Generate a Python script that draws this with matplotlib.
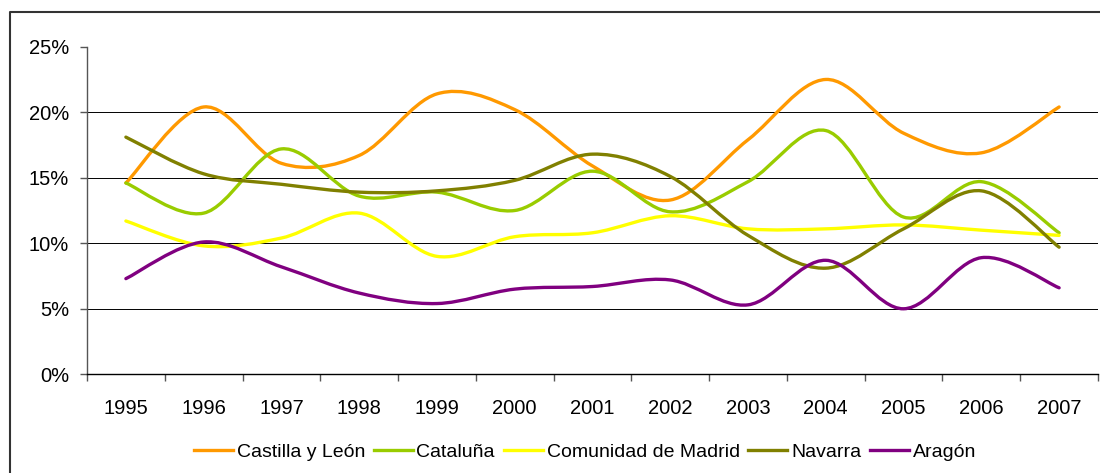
import numpy as np
import matplotlib
matplotlib.use("Agg")
import matplotlib.pyplot as plt
from matplotlib.path import Path
from matplotlib.patches import PathPatch
from matplotlib.lines import Line2D
from matplotlib.ticker import FixedLocator, FuncFormatter

plt.rcParams['font.family'] = ['Liberation Sans', 'DejaVu Sans']

# values in percent
years = ["1995", "1996", "1997", "1998", "1999", "2000", "2001",
         "2002", "2003", "2004", "2005", "2006", "2007"]
castilla_leon = [14.6, 20.4, 16.1, 16.7, 21.4, 20.2, 15.9, 13.3, 17.9, 22.5, 18.4, 16.9, 20.4]
cataluna = [14.6, 12.3, 17.2, 13.6, 13.9, 12.5, 15.5, 12.4, 14.7, 18.6, 12.0, 14.7, 10.8]
madrid = [11.7, 9.8, 10.4, 12.3, 9.0, 10.5, 10.8, 12.1, 11.1, 11.1, 11.4, 11.0, 10.6]
navarra = [18.1, 15.3, 14.5, 13.9, 14.0, 14.8, 16.8, 15.1, 10.6, 8.1, 11.1, 14.0, 9.7]
aragon = [7.3, 10.1, 8.2, 6.2, 5.4, 6.5, 6.7, 7.2, 5.3, 8.7, 5.0, 8.9, 6.6]

series_names = ["Castilla y León", "Cataluña", "Comunidad de Madrid", "Navarra", "Aragón"]
series_values = [castilla_leon, cataluna, madrid, navarra, aragon]
series_colors = ["#FF9900", "#99CC00", "#FFFF00", "#808000", "#800080"]
y_ticks = [0, 5, 10, 15, 20, 25]


def smooth_path(xs, ys):
    """Bezier path through the points, like Excel's smoothed line."""
    pts = np.column_stack([xs, ys]).astype(float)
    n = len(pts)
    verts = [pts[0]]
    codes = [Path.MOVETO]
    for i in range(n - 1):
        p0 = pts[max(i - 1, 0)]
        p1 = pts[i]
        p2 = pts[i + 1]
        p3 = pts[min(i + 2, n - 1)]
        verts += [p1 + (p2 - p0) / 6, p2 - (p3 - p1) / 6, p2]
        codes += [Path.CURVE4] * 3
    return Path(verts, codes)


fig = plt.figure(figsize=(11, 4.73), dpi=100)

# outer chart frame (only left and top edges are visible in the crop)
fx = 10 / 1100
fy = 1 - 12 / 473
fig.add_artist(Line2D([fx, fx, 1.0], [0.0, fy, fy], transform=fig.transFigure,
                      color="#333333", lw=1.5))

ax = fig.add_axes([87 / 1100, 1 - 374.3 / 473, (1098 - 87) / 1100, (374.3 - 46.7) / 473])
x = np.arange(len(years))

for vals, name, col in zip(series_values, series_names, series_colors):
    patch = PathPatch(smooth_path(x, vals), facecolor="none", edgecolor=col,
                      lw=2.4, capstyle="round", joinstyle="round", zorder=3)
    ax.add_patch(patch)

for yv in y_ticks[1:-1]:
    ax.axhline(yv, color="black", lw=0.7, zorder=1)

ax.set_xlim(-0.5, len(years) - 0.5)
ax.set_ylim(0, 25)

ax.spines["top"].set_visible(False)
ax.spines["right"].set_visible(False)
ax.spines["left"].set_color("#555555")
ax.spines["left"].set_linewidth(1.0)
ax.spines["bottom"].set_color("black")
ax.spines["bottom"].set_linewidth(1.0)

ax.set_yticks(y_ticks)
ax.yaxis.set_major_formatter(FuncFormatter(lambda v, p: f"{v:.0f}%"))
ax.tick_params(axis="y", direction="out", length=5, width=1, color="#555555",
               pad=8, labelsize=14.5)

ax.set_xticks(x)
ax.set_xticklabels(years)
ax.xaxis.set_minor_locator(FixedLocator(np.arange(len(years) + 1) - 0.5))
ax.tick_params(axis="x", which="major", length=0, pad=17.5, labelsize=14.5)
ax.tick_params(axis="x", which="minor", direction="out", length=5, width=1, color="#555555")

handles = [Line2D([], [], color=c, lw=2.4) for c in series_colors]
fig.legend(handles, series_names, loc="center", bbox_to_anchor=(585 / 1100, 21 / 473),
           ncol=5, frameon=False, fontsize=14, handlelength=2.0, handletextpad=0.2,
           columnspacing=0.45, borderpad=0, borderaxespad=0)

fig.savefig("out.png", dpi=100)
